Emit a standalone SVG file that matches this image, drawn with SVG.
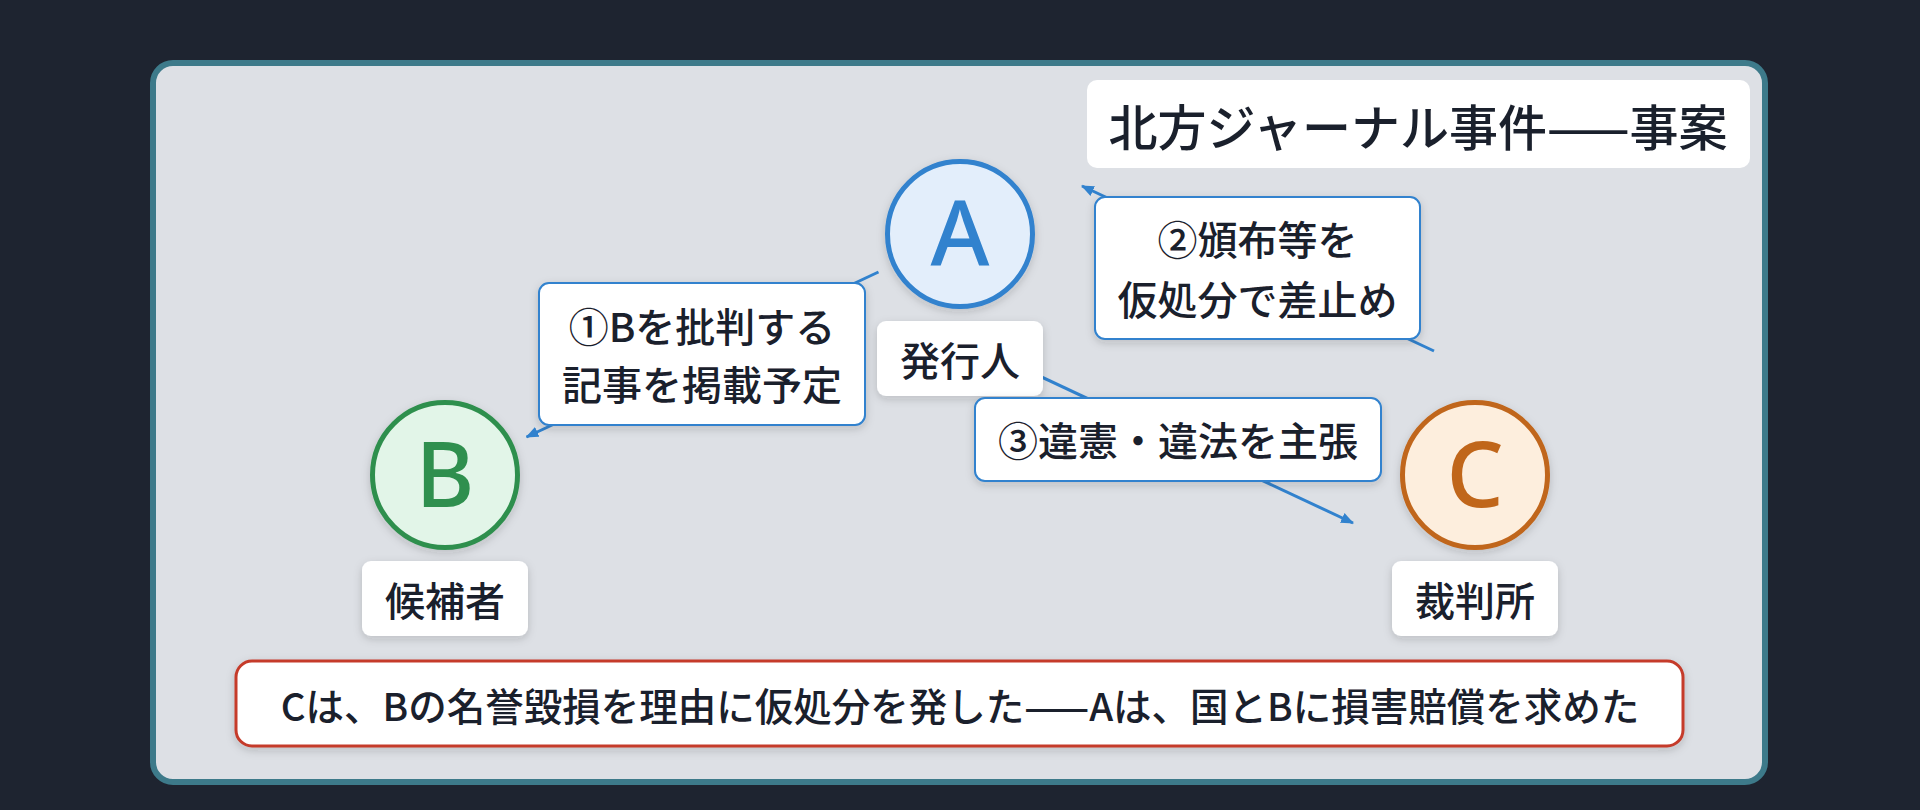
<svg xmlns="http://www.w3.org/2000/svg" width="1920" height="810" viewBox="0 0 1920 810">
  <defs>
    <filter id="sh" x="-20%" y="-20%" width="140%" height="150%">
      <feDropShadow dx="0" dy="3" stdDeviation="4" flood-color="#1a2233" flood-opacity="0.18"/>
    </filter>
    <marker id="arr" viewBox="0 0 12 10" refX="11" refY="5" markerWidth="13" markerHeight="11" markerUnits="userSpaceOnUse" orient="auto">
      <path d="M0,0 L12,5 L0,10 Z" fill="#3182ce"/>
    </marker>
    <style>
      .jp { font-family: "Noto Sans CJK JP", "Noto Sans", sans-serif; fill: #1a202c; font-weight: 500; }
      .lbl { fill: #ffffff; stroke: #3182ce; stroke-width: 2; }
      .tag { fill: #ffffff; }
      .conn { stroke: #3182ce; stroke-width: 3; fill: none; marker-end: url(#arr); }
      .letter { font-family: "Noto Sans", "DejaVu Sans", sans-serif; font-weight: 500; font-size: 90px; }
    </style>
  </defs>

  <rect x="0" y="0" width="1920" height="810" fill="#1e2430"/>
  <rect x="153" y="63" width="1612" height="719" rx="20" fill="#dde0e5" stroke="#3d7a8a" stroke-width="6"/>

  <g id="title">
    <rect x="1087" y="80" width="663" height="88" rx="10" class="tag"/>
    <text x="1418" y="124" class="jp" font-size="49" text-anchor="middle" dominant-baseline="central">北方ジャーナル事件——事案</text>
  </g>

  <g id="connectors">
    <line x1="878.5" y1="272" x2="526.5" y2="437" class="conn"/>
    <line x1="1434" y1="351" x2="1082" y2="186" class="conn"/>
    <line x1="1001" y1="358" x2="1353" y2="523" class="conn"/>
  </g>

  <g id="nodeA">
    <circle cx="960" cy="234" r="72.5" fill="#e3eefb" stroke="#3182ce" stroke-width="5" filter="url(#sh)"/>
    <text x="960" y="266" class="letter" fill="#3182ce" text-anchor="middle">A</text>
    <rect x="877" y="321" width="166" height="75" rx="9" class="tag" filter="url(#sh)"/>
    <text x="960" y="358.5" class="jp" font-size="40" text-anchor="middle" dominant-baseline="central">発行人</text>
  </g>

  <g id="nodeB">
    <circle cx="445" cy="475" r="72.5" fill="#e2f5e8" stroke="#2f8f4e" stroke-width="5" filter="url(#sh)"/>
    <text x="445" y="507" class="letter" fill="#2f8f4e" text-anchor="middle">B</text>
    <rect x="362" y="561" width="166" height="75" rx="9" class="tag" filter="url(#sh)"/>
    <text x="445" y="598.5" class="jp" font-size="40" text-anchor="middle" dominant-baseline="central">候補者</text>
  </g>

  <g id="nodeC">
    <circle cx="1475" cy="475" r="72.5" fill="#fdeedd" stroke="#c0661a" stroke-width="5" filter="url(#sh)"/>
    <text x="1475" y="507" class="letter" fill="#c0661a" text-anchor="middle">C</text>
    <rect x="1392" y="561" width="166" height="75" rx="9" class="tag" filter="url(#sh)"/>
    <text x="1475" y="598.5" class="jp" font-size="40" text-anchor="middle" dominant-baseline="central">裁判所</text>
  </g>

  <g id="label1">
    <rect x="539" y="283" width="326" height="142" rx="10" class="lbl" filter="url(#sh)"/>
    <text x="702" y="325" class="jp" font-size="40" text-anchor="middle" dominant-baseline="central">①Bを批判する</text>
    <text x="702" y="383" class="jp" font-size="40" text-anchor="middle" dominant-baseline="central">記事を掲載予定</text>
  </g>

  <g id="label2">
    <rect x="1095" y="197" width="325" height="142" rx="10" class="lbl" filter="url(#sh)"/>
    <text x="1257.5" y="238" class="jp" font-size="40" text-anchor="middle" dominant-baseline="central">②頒布等を</text>
    <text x="1257.5" y="298" class="jp" font-size="40" text-anchor="middle" dominant-baseline="central">仮処分で差止め</text>
  </g>

  <g id="label3">
    <rect x="975" y="398" width="406" height="83" rx="10" class="lbl" filter="url(#sh)"/>
    <text x="1178" y="439" class="jp" font-size="40" text-anchor="middle" dominant-baseline="central">③違憲・違法を主張</text>
  </g>

  <g id="summary">
    <rect x="236" y="661" width="1447" height="85" rx="16" fill="#ffffff" stroke="#c53b2a" stroke-width="3" filter="url(#sh)"/>
    <text x="960" y="704" class="jp" font-size="38.5" text-anchor="middle" dominant-baseline="central">Cは、Bの名誉毀損を理由に仮処分を発した——Aは、国とBに損害賠償を求めた</text>
  </g>
</svg>
